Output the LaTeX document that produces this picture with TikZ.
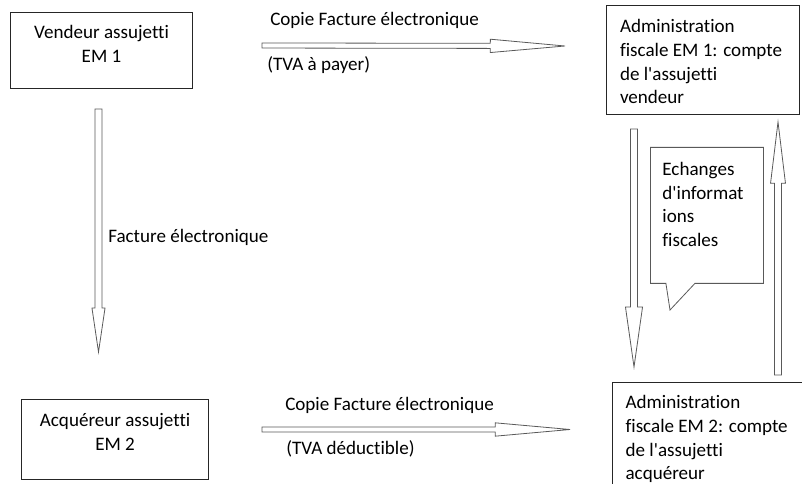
\documentclass[tikz,border=0pt]{standalone}
\usepackage{fontspec}
\setmainfont{Carlito}[Ligatures=NoCommon]
\usetikzlibrary{calc,shapes.callouts}

\tikzset{
  boite/.style={draw=black!85, line width=0.8pt, inner ysep=0pt, anchor=north west},
  fleche/.style={draw=black!65, line width=0.6pt},
  etiq/.style={inner sep=0pt, anchor=base west},
}

% fleche creuse : depart, pointe, demi-largeur, longueur tete, demi-largeur tete
\newcommand{\flechecreuse}[5]{%
  \coordinate (tb) at ($(#2)!#4!(#1)$);
  \draw[fleche] ($(#1)!#3!90:(#2)$) -- ($(tb)!#3!90:(#2)$) -- ($(tb)!#5!90:(#2)$)
    -- (#2) -- ($(tb)!#5!-90:(#2)$) -- ($(tb)!#3!-90:(#2)$) -- ($(#1)!#3!-90:(#2)$) -- cycle;
}

\begin{document}
\begin{tikzpicture}[x=0.75pt, y=-0.75pt, font=\fontsize{14.3}{17.8}\selectfont]
\useasboundingbox (0,0) rectangle (802,484);

% boites
\node[boite, text width=136.5pt, inner xsep=0pt, align=flush center, text height=19.5pt, text depth=37.5pt] (vendeur) at (10,12) {Vendeur assujetti\\EM 1};
\node[boite, text width=124.5pt, inner xsep=10.1pt, align=flush left, text height=20.3pt, text depth=61.5pt] (adm1) at (606,5) {Administration\\fiscale EM 1: compte\\de l\textquotesingle assujetti\\vendeur};
\node[boite, text width=140.3pt, inner xsep=0pt, align=flush center, text height=20.3pt, text depth=39.8pt] (acquereur) at (21,399) {Acquéreur assujetti\\EM 2};
\node[boite, text width=126pt, inner xsep=9.8pt, align=flush left, text height=19.5pt, text depth=64.5pt] (adm2) at (612,382) {Administration\\fiscale EM 2: compte\\de l\textquotesingle assujetti\\acquéreur};

% bulle
\node[rectangle callout, draw=black!65, line width=0.6pt, anchor=north west, text width=66.75pt, inner xsep=9pt, inner ysep=0pt, align=flush left, text height=21pt, text depth=81pt, callout absolute pointer={(670,310)}, callout pointer width=21.75pt] (bulle) at (650,147) {Echanges\\d\textquotesingle informat\\ions\\fiscales};

% extremites des fleches
\coordinate (f1a) at (262,45.5); \coordinate (f1b) at (565,46);
\coordinate (f2a) at (262,429.5); \coordinate (f2b) at (570,429.5);
\coordinate (f3a) at (98.5,109); \coordinate (f3b) at (98.5,352);
\coordinate (f4a) at (634,129); \coordinate (f4b) at (634,367);
\coordinate (f5a) at (778,375); \coordinate (f5b) at (778,122);

\flechecreuse{f1a}{f1b}{1.9pt}{56pt}{5pt}
\flechecreuse{f2a}{f2b}{1.9pt}{56pt}{5pt}
\flechecreuse{f3a}{f3b}{2.6pt}{33pt}{4.9pt}
\flechecreuse{f4a}{f4b}{2.6pt}{45pt}{6.4pt}
\flechecreuse{f5a}{f5b}{2.6pt}{46pt}{5.6pt}

% textes des fleches
\node[etiq] (copie1) at (270,26) {Copie Facture électronique};
\node[etiq] (tva1) at (267,71) {(TVA à payer)};
\node[etiq] (copie2) at (285,410) {Copie Facture électronique};
\node[etiq] (tva2) at (286,454) {(TVA déductible)};
\node[etiq] (facture) at (108,243) {Facture électronique};
\end{tikzpicture}
\end{document}
